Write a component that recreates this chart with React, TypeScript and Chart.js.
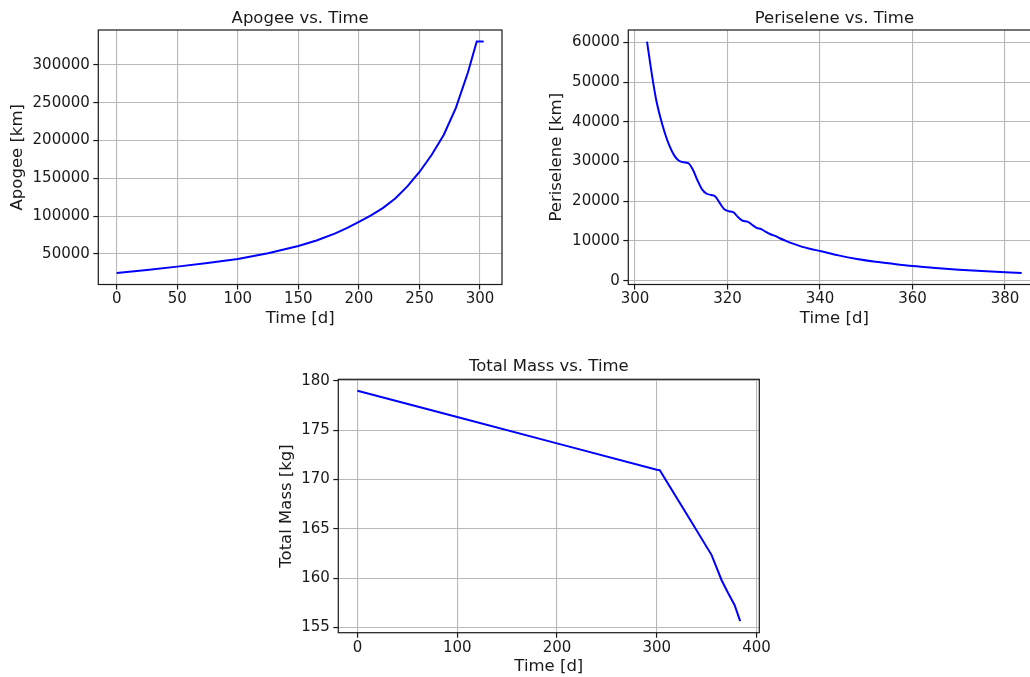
import { useEffect, useRef } from 'react';
import { Chart, registerables } from 'chart.js';

Chart.register(...registerables);

// ---------- data ----------
const APOGEE_T = [0, 25, 50, 75, 100, 125, 150, 165, 180, 190, 200, 210, 220, 230, 240, 250, 260, 270, 280, 290, 297.3, 303];
const APOGEE_KM = [24960, 28900, 33300, 38000, 43500, 51000, 60500, 67800, 77000, 84300, 92500, 101000, 111000, 123500, 139500, 158500, 181000, 207500, 243000, 290000, 331000, 331000];
const APOGEE_X_TICKS = [0, 50, 100, 150, 200, 250, 300];
const APOGEE_Y_TICKS = [50000, 100000, 150000, 200000, 250000, 300000];

const PERI_T = [302.6, 303.5, 304.5, 305.5, 306.5, 307.5, 308.5, 309.5, 310.5, 311.5, 312.5, 313.5, 314.5, 315.5, 316.5, 317.3, 318.3, 319.3, 320.3, 321.3, 322.3, 323.3, 324.3, 325.3, 326.3, 327.3, 328.3, 329.3, 330.3, 331.3, 332.5, 334, 336, 338, 340, 344, 348, 352, 356, 360, 365, 370, 375, 380, 383.6];
const PERI_KM = [60185, 53000, 46000, 41000, 37000, 33800, 31500, 30200, 29800, 29600, 28000, 25300, 23000, 21900, 21600, 21300, 19600, 18000, 17500, 17200, 16000, 15100, 14900, 14100, 13300, 13000, 12300, 11700, 11300, 10700, 10100, 9400, 8600, 8000, 7500, 6400, 5500, 4800, 4250, 3750, 3250, 2800, 2450, 2150, 1979];
const PERI_X_TICKS = [300, 320, 340, 360, 380];
const PERI_Y_TICKS = [0, 10000, 20000, 30000, 40000, 50000, 60000];

const MASS_T = [0, 100, 200, 300, 303, 333, 355, 365, 371.5, 378, 383.6];
const MASS_KG = [179.0, 176.35, 173.67, 171.0, 170.95, 166.0, 162.35, 159.8, 158.5, 157.3, 155.65];
const MASS_X_TICKS = [0, 100, 200, 300, 400];
const MASS_Y_TICKS = [155, 160, 165, 170, 175, 180];

// ---------- styling ----------
const FAMILY = '"DejaVu Sans", "Liberation Sans", sans-serif';
const TICK_FONT = { family: FAMILY, size: 15 };
const LABEL_FONT = { family: FAMILY, size: 16.5, weight: 'normal' as const };
const TEXT = '#1a1a1a';
const GRID = '#b8b8b8';
const SPINE = '#1a1a1a';

const padRange = (arr: number[]) => {
  const lo = Math.min(...arr);
  const hi = Math.max(...arr);
  const r = hi - lo;
  return [lo - 0.05 * r, hi + 0.05 * r];
};

const spinePlugin = {
  id: 'spines',
  afterDraw(chart: any) {
    const { ctx, chartArea: a } = chart;
    ctx.save();
    ctx.strokeStyle = SPINE;
    ctx.lineWidth = 1.2;
    ctx.strokeRect(a.left, a.top, a.right - a.left, a.bottom - a.top);
    ctx.restore();
  },
};

type PanelCfg = {
  title: string;
  yLabel: string;
  t: number[];
  v: number[];
  xTicks: number[];
  yTicks: number[];
  smooth: boolean;
  left: number;
  top: number;
  width: number;
  height: number;
  padRight: number;
  yAxisWidth: number;
  xAxisHeight: number;
  titlePad: { top: number; bottom: number };
  yTitlePad: number;
  xTickPad: number;
  xTitlePad: number;
};

const PANELS: PanelCfg[] = [
  {
    title: 'Apogee vs. Time', yLabel: 'Apogee [km]', t: APOGEE_T, v: APOGEE_KM,
    xTicks: APOGEE_X_TICKS, yTicks: APOGEE_Y_TICKS, smooth: false,
    left: 0, top: 0, width: 520, height: 330, padRight: 18,
    yAxisWidth: 98.3, xAxisHeight: 45.5, titlePad: { top: 9.1, bottom: 1.1 },
    yTitlePad: 7.4, xTickPad: 0.8, xTitlePad: 1.6,
  },
  {
    title: 'Periselene vs. Time', yLabel: 'Periselene [km]', t: PERI_T, v: PERI_KM,
    xTicks: PERI_X_TICKS, yTicks: PERI_Y_TICKS, smooth: true,
    left: 540, top: 0, width: 503, height: 330, padRight: 2.6,
    yAxisWidth: 88.3, xAxisHeight: 45.5, titlePad: { top: 9.1, bottom: 1.1 },
    yTitlePad: 6.8, xTickPad: 0.8, xTitlePad: 1.6,
  },
  {
    title: 'Total Mass vs. Time', yLabel: 'Total Mass [kg]', t: MASS_T, v: MASS_KG,
    xTicks: MASS_X_TICKS, yTicks: MASS_Y_TICKS, smooth: false,
    left: 270, top: 350, width: 520, height: 327, padRight: 30.7,
    yAxisWidth: 68.3, xAxisHeight: 44.3, titlePad: { top: 7.1, bottom: 2.4 },
    yTitlePad: 7.3, xTickPad: 1.3, xTitlePad: 0.5,
  },
];

function Panel({ cfg }: { cfg: PanelCfg }) {
  const ref = useRef<HTMLCanvasElement>(null);

  useEffect(() => {
    if (!ref.current) return;
    const [xMin, xMax] = padRange(cfg.t);
    const [yMin, yMax] = padRange(cfg.v);
    const pts = cfg.t.map((x, i) => ({ x, y: cfg.v[i] }));
    const gridOpts = {
      color: GRID,
      lineWidth: 1.1,
      drawTicks: true,
      tickLength: 5,
      tickColor: SPINE,
      tickWidth: 1.2,
    };
    const chart = new Chart(ref.current, {
      type: 'line',
      data: {
        datasets: [
          {
            data: pts,
            borderColor: '#0000ff',
            borderWidth: 2,
            pointRadius: 0,
            fill: false,
            tension: 0,
            cubicInterpolationMode: cfg.smooth ? 'monotone' : 'default',
          },
        ],
      },
      options: {
        animation: false,
        responsive: false,
        events: [],
        layout: { padding: { left: 0, top: 0, right: cfg.padRight, bottom: 0 } },
        plugins: {
          legend: { display: false },
          tooltip: { enabled: false },
          title: {
            display: true,
            text: cfg.title,
            fullSize: false,
            color: TEXT,
            font: LABEL_FONT,
            padding: cfg.titlePad,
          },
        },
        scales: {
          x: {
            type: 'linear',
            min: xMin,
            max: xMax,
            afterBuildTicks: (axis: any) => {
              axis.ticks = cfg.xTicks.map((value) => ({ value }));
            },
            afterFit: (s: any) => {
              s.height = cfg.xAxisHeight;
              s.paddingLeft = 0;
              s.paddingRight = 0;
            },
            ticks: {
              callback: (v: any) => String(v),
              color: TEXT,
              font: TICK_FONT,
              padding: cfg.xTickPad,
              maxRotation: 0,
              autoSkip: false,
            },
            grid: gridOpts,
            border: { display: false },
            title: {
              display: true,
              text: 'Time [d]',
              color: TEXT,
              font: LABEL_FONT,
              padding: { top: 0, bottom: cfg.xTitlePad },
            },
          },
          y: {
            type: 'linear',
            min: yMin,
            max: yMax,
            afterBuildTicks: (axis: any) => {
              axis.ticks = cfg.yTicks.map((value) => ({ value }));
            },
            afterFit: (s: any) => {
              s.width = cfg.yAxisWidth;
              s.paddingTop = 0;
              s.paddingBottom = 0;
            },
            ticks: {
              callback: (v: any) => String(v),
              color: TEXT,
              font: TICK_FONT,
              padding: 3.5,
              autoSkip: false,
            },
            grid: gridOpts,
            border: { display: false },
            title: {
              display: true,
              text: cfg.yLabel,
              color: TEXT,
              font: LABEL_FONT,
              padding: { top: cfg.yTitlePad, bottom: 0 },
            },
          },
        },
      },
      plugins: [spinePlugin],
    } as any);
    return () => chart.destroy();
  }, [cfg]);

  return (
    <canvas
      ref={ref}
      width={cfg.width}
      height={cfg.height}
      style={{
        position: 'absolute',
        left: cfg.left,
        top: cfg.top,
        width: cfg.width,
        height: cfg.height,
      }}
    />
  );
}

export default function App() {
  return (
    <div
      style={{
        position: 'fixed',
        left: 0,
        top: 0,
        width: 1030,
        height: 677,
        overflow: 'hidden',
        background: '#ffffff',
      }}
    >
      {PANELS.map((p) => (
        <Panel key={p.title} cfg={p} />
      ))}
    </div>
  );
}
